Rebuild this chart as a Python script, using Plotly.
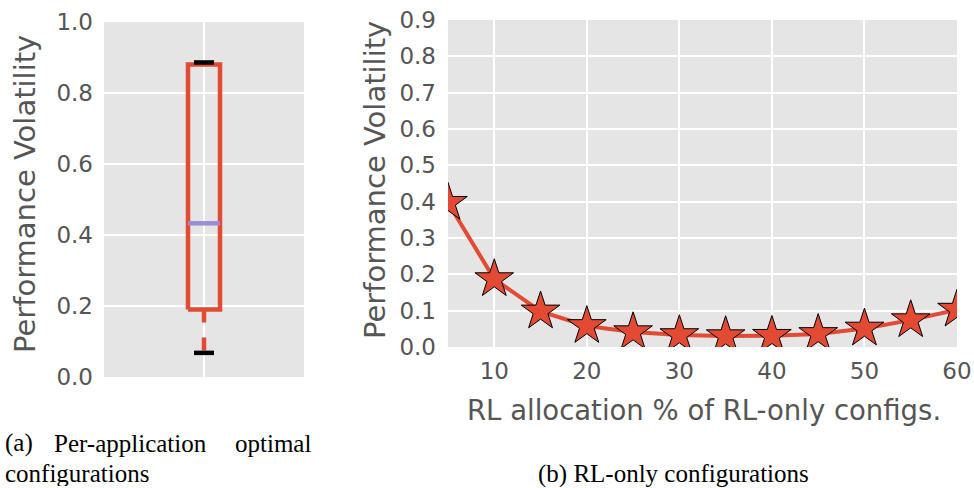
import plotly.graph_objects as go

# ---- data ----
box_stats = {"lower": 0.068, "q1": 0.19, "median": 0.433, "q3": 0.88, "upper": 0.886}
rl_alloc = [5, 10, 15, 20, 25, 30, 35, 40, 45, 50, 55, 60]
volatility = [0.397, 0.187, 0.098, 0.058, 0.041, 0.033, 0.030, 0.031, 0.036, 0.051, 0.074, 0.103]
left_yticks = [0.0, 0.2, 0.4, 0.6, 0.8, 1.0]
right_yticks = [0.0, 0.1, 0.2, 0.3, 0.4, 0.5, 0.6, 0.7, 0.8, 0.9]
right_xticks = [10, 20, 30, 40, 50, 60]

RED = "#E24A33"
PURPLE = "#988ED5"
GRAY = "#555555"
BG = "#E5E5E5"
FONT = "DejaVu Sans"

fig = go.Figure()

# ---- left: box plot drawn from stats ----
c = 1.0
hw = 0.08   # box half width
cw = 0.05   # cap half width
s = box_stats
LW = 4.5
fig.add_trace(go.Scatter(
    x=[c - hw, c + hw, c + hw, c - hw, c - hw],
    y=[s["q1"], s["q1"], s["q3"], s["q3"], s["q1"]],
    mode="lines", line=dict(color=RED, width=LW), xaxis="x", yaxis="y",
    showlegend=False, hoverinfo="skip"))
fig.add_trace(go.Scatter(
    x=[c, c], y=[s["q1"], s["lower"]], mode="lines",
    line=dict(color=RED, width=LW, dash="13px,15px"), xaxis="x", yaxis="y",
    showlegend=False, hoverinfo="skip"))
fig.add_trace(go.Scatter(
    x=[c, c], y=[s["q3"], s["upper"]], mode="lines",
    line=dict(color=RED, width=LW), xaxis="x", yaxis="y",
    showlegend=False, hoverinfo="skip"))
fig.add_trace(go.Scatter(
    x=[c - hw, c + hw], y=[s["median"], s["median"]], mode="lines",
    line=dict(color=PURPLE, width=LW), xaxis="x", yaxis="y",
    showlegend=False, hoverinfo="skip"))
for key in ("lower", "upper"):
    fig.add_trace(go.Scatter(
        x=[c - cw, c + cw], y=[s[key], s[key]], mode="lines",
        line=dict(color="black", width=LW), xaxis="x", yaxis="y",
        showlegend=False, hoverinfo="skip"))

# ---- right: line with stars ----
fig.add_trace(go.Scatter(
    x=rl_alloc, y=volatility, mode="lines+markers",
    line=dict(color=RED, width=4),
    marker=dict(symbol="star", size=29, color=RED, line=dict(color="black", width=1)),
    xaxis="x2", yaxis="y2", showlegend=False))

W, H = 974, 488
tickfont = dict(family=FONT, size=23, color=GRAY)
common = dict(showgrid=True, gridcolor="white", gridwidth=1.5, zeroline=False,
              showline=False, ticks="", automargin=False)

fig.update_layout(
    width=W, height=H,
    margin=dict(l=0, r=0, t=0, b=0, autoexpand=False),
    paper_bgcolor="white", plot_bgcolor=BG,
    xaxis=dict(domain=[104 / W, 304 / W], range=[0.5, 1.5], tickvals=[1],
               showticklabels=False, anchor="y", **common),
    yaxis=dict(domain=[(H - 377) / H, (H - 22) / H], range=[0, 1],
               tickvals=left_yticks, ticktext=[f"{v:.1f}" for v in left_yticks],
               tickfont=tickfont, anchor="x", ticklabelstandoff=10, **common),
    xaxis2=dict(domain=[448 / W, 957 / W], range=[5, 60], tickvals=right_xticks,
                tickfont=tickfont, anchor="y2", ticklabelstandoff=8, **common),
    yaxis2=dict(domain=[(H - 347) / H, (H - 20) / H], range=[0, 0.9],
                tickvals=right_yticks, ticktext=[f"{v:.1f}" for v in right_yticks],
                tickfont=tickfont, anchor="x2", ticklabelstandoff=11, **common),
)

ytitle_font = dict(family=FONT, size=29, color=GRAY)
xtitle_font = dict(family=FONT, size=27.5, color=GRAY)
cap_font = dict(family="Liberation Serif", size=25, color="black")
annots = [
    dict(text="Performance Volatility", x=25 / W, y=(H - 194) / H, textangle=-90,
         font=ytitle_font),
    dict(text="Performance Volatility", x=375 / W, y=(H - 180) / H, textangle=-90,
         font=ytitle_font),
    dict(text="RL allocation % of RL-only configs.", x=704 / W, y=(H - 410) / H,
         font=xtitle_font),
    dict(text="(a)", x=3 / W, y=(H - 443) / H, xanchor="left", font=cap_font),
    dict(text="Per-application", x=52 / W, y=(H - 443) / H, xanchor="left", font=cap_font),
    dict(text="optimal", x=313 / W, y=(H - 443) / H, xanchor="right", font=cap_font),
    dict(text="configurations", x=3 / W, y=(H - 473) / H, xanchor="left", font=cap_font,
         height=26),
    dict(text="(b) RL-only configurations", x=673 / W, y=(H - 474) / H, font=cap_font,
         height=26),
]
for a in annots:
    a.setdefault("xanchor", "center")
    fig.add_annotation(xref="paper", yref="paper", showarrow=False, yanchor="middle", **a)

fig.write_html("out.html")
